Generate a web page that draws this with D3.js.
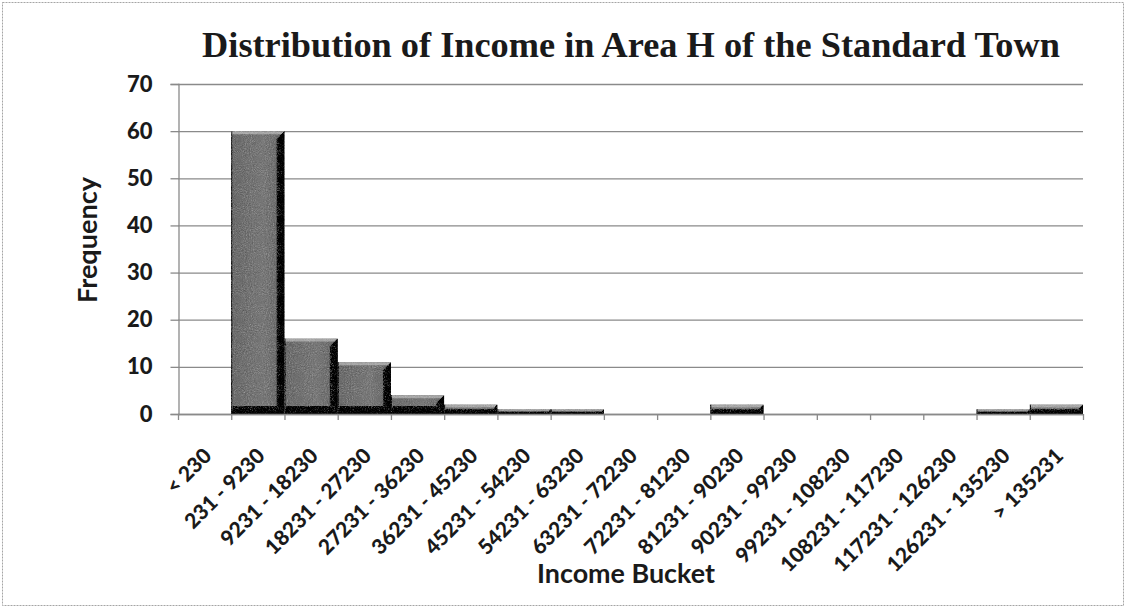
<!DOCTYPE html>
<html>
<head>
<meta charset="utf-8">
<script src="https://cdn.jsdelivr.net/npm/d3@7"></script>
<style>
  html, body { margin: 0; padding: 0; background: #ffffff; }
  svg { display: block; }
</style>
</head>
<body>
<svg id="chart" width="1126" height="610"></svg>
<script>
// ---- data ----
const categories = ["< 230", "231 - 9230", "9231 - 18230", "18231 - 27230", "27231 - 36230",
  "36231 - 45230", "45231 - 54230", "54231 - 63230", "63231 - 72230", "72231 - 81230",
  "81231 - 90230", "90231 - 99230", "99231 - 108230", "108231 - 117230", "117231 - 126230",
  "126231 - 135230", "> 135231"];
const frequency = [0, 60, 16, 11, 4, 2, 1, 1, 0, 0, 2, 0, 0, 0, 0, 1, 2];
const yTicks = [0, 10, 20, 30, 40, 50, 60, 70];
const titleText = "Distribution of Income in Area H of the Standard Town";
const xTitle = "Income Bucket";
const yTitle = "Frequency";

// ---- layout ----
const svg = d3.select("#chart");
const W = 1126, H = 610;
const plot = { left: 178, right: 1083, top: 84, bottom: 414 };
const textColor = "#1a1a1a";
const gridColor = "#8a8a8a";
const sansFont = "Lato, 'Open Sans', sans-serif";

const x = d3.scaleBand().domain(categories).range([plot.left, plot.right]).padding(0);
const y = d3.scaleLinear().domain([0, 70]).range([plot.bottom, plot.top]);

// defs
const defs = svg.append("defs");
const rg = defs.append("linearGradient").attr("id", "rightBevel").attr("x1", 0).attr("x2", 1).attr("y1", 0).attr("y2", 0);
rg.append("stop").attr("offset", "0%").attr("stop-color", "#666666");
rg.append("stop").attr("offset", "100%").attr("stop-color", "#2e2e2e");
const bg = defs.append("linearGradient").attr("id", "bottomBevel").attr("x1", 0).attr("x2", 0).attr("y1", 0).attr("y2", 1);
bg.append("stop").attr("offset", "0%").attr("stop-color", "#5a5a5a");
bg.append("stop").attr("offset", "100%").attr("stop-color", "#2c2c2c");
const fg = defs.append("linearGradient").attr("id", "face").attr("x1", 0).attr("x2", 1).attr("y1", 0).attr("y2", 0);
fg.append("stop").attr("offset", "0%").attr("stop-color", "#888888");
fg.append("stop").attr("offset", "60%").attr("stop-color", "#929292");
fg.append("stop").attr("offset", "100%").attr("stop-color", "#858585");
const grain = defs.append("filter").attr("id", "grain")
  .attr("filterUnits", "userSpaceOnUse").attr("x", 0).attr("y", 0).attr("width", W).attr("height", H);
grain.append("feTurbulence").attr("type", "fractalNoise").attr("baseFrequency", 0.95).attr("numOctaves", 2).attr("seed", 3).attr("result", "noise");
grain.append("feColorMatrix").attr("in", "noise").attr("type", "saturate").attr("values", 0).attr("result", "gnoise");
grain.append("feComposite").attr("in", "SourceGraphic").attr("in2", "gnoise").attr("operator", "arithmetic")
  .attr("k1", 0).attr("k2", 1).attr("k3", 0.45).attr("k4", -0.22).attr("result", "mix");
grain.append("feComposite").attr("in", "mix").attr("in2", "SourceAlpha").attr("operator", "in");

// outer border
svg.append("rect").attr("x", 2.5).attr("y", 2.5).attr("width", W - 5).attr("height", H - 7)
  .attr("fill", "none").attr("stroke", "#a5a5a5").attr("stroke-width", 1).attr("stroke-dasharray", "2,1");

// gridlines
svg.append("g").selectAll("line").data(yTicks).join("line")
  .attr("x1", plot.left).attr("x2", plot.right)
  .attr("y1", d => y(d) + 0.5).attr("y2", d => y(d) + 0.5)
  .attr("stroke", gridColor).attr("stroke-width", 1.3);

// y axis
const yAxis = svg.append("g").attr("transform", `translate(${plot.left + 0.5},0)`)
  .call(d3.axisLeft(y).tickValues(yTicks).tickSize(8).tickPadding(18).tickFormat(d3.format("d")));
yAxis.select(".domain").attr("stroke", gridColor).attr("stroke-width", 1.3);
yAxis.selectAll(".tick line").attr("stroke", gridColor).attr("stroke-width", 1.3);
yAxis.selectAll(".tick text").attr("fill", textColor)
  .style("font-family", sansFont).style("font-weight", "900").style("font-size", "22px");

// bars with bevel
const barsG = svg.append("g").attr("filter", "url(#grain)");
categories.forEach((c, i) => {
  const v = frequency[i];
  if (v <= 0) return;
  const x0 = x(c), x1 = x(c) + x.bandwidth();
  const y0 = y(v), y1 = y(0);
  const h = y1 - y0, w = x1 - x0;
  const b = Math.min(8, h / 2);
  const bt = Math.min(3, h / 3);
  const g = barsG.append("g");
  g.append("rect").attr("x", x0).attr("y", y0).attr("width", w).attr("height", h).attr("fill", "url(#face)");
  // top bevel (light)
  g.append("polygon").attr("points", [[x0, y0], [x1, y0], [x1 - bt, y0 + bt], [x0 + 1, y0 + bt]].join(" "))
    .attr("fill", "#b8b8b8");
  // right bevel (dark)
  g.append("polygon").attr("points", [[x1, y0], [x1, y1], [x1 - b, y1 - b], [x1 - b, y0 + b]].join(" "))
    .attr("fill", "url(#rightBevel)");
  // bottom bevel (dark)
  g.append("polygon").attr("points", [[x0, y1], [x1, y1], [x1 - b, y1 - b], [x0 + 2, y1 - b]].join(" "))
    .attr("fill", "url(#bottomBevel)");
  g.append("line").attr("x1", x0 + 0.5).attr("x2", x0 + 0.5).attr("y1", y0).attr("y2", y1)
    .attr("stroke", "#555555").attr("stroke-width", 1);
});

// x axis line and boundary ticks
svg.append("line").attr("x1", plot.left).attr("x2", plot.right)
  .attr("y1", plot.bottom + 0.5).attr("y2", plot.bottom + 0.5)
  .attr("stroke", gridColor).attr("stroke-width", 1.3);
const bounds = categories.map(c => x(c)).concat([x(categories[categories.length - 1]) + x.bandwidth()]);
svg.append("g").selectAll("line").data(bounds).join("line")
  .attr("x1", d => d + 0.5).attr("x2", d => d + 0.5)
  .attr("y1", plot.bottom).attr("y2", plot.bottom + 6)
  .attr("stroke", gridColor).attr("stroke-width", 1.3);

// x tick labels
svg.append("g").selectAll("text").data(categories).join("text")
  .attr("transform", d => `translate(${x(d) + x.bandwidth() / 2 + 3},452) rotate(-45)`)
  .attr("text-anchor", "end").attr("dy", "0.35em")
  .attr("fill", textColor)
  .style("font-family", sansFont).style("font-weight", "900").style("font-size", "21px")
  .text(d => d);

// helper: fit font size to a target width
function fitText(sel, targetWidth, baseSize) {
  sel.style("font-size", baseSize + "px");
  const wNow = sel.node().getComputedTextLength();
  sel.style("font-size", (baseSize * targetWidth / wNow).toFixed(2) + "px");
}

// title
const t = svg.append("text").attr("x", 631).attr("y", 57).attr("text-anchor", "middle")
  .attr("fill", textColor)
  .style("font-family", "'Liberation Serif', 'DejaVu Serif', serif").style("font-weight", "bold")
  .text(titleText);
fitText(t, 858, 32);

// axis titles
const xt = svg.append("text").attr("x", 626).attr("y", 583).attr("text-anchor", "middle")
  .attr("fill", textColor)
  .style("font-family", sansFont).style("font-weight", "bold")
  .text(xTitle);
fitText(xt, 178, 26);

const yt = svg.append("text").attr("transform", "translate(97,240) rotate(-90)").attr("text-anchor", "middle")
  .attr("fill", textColor)
  .style("font-family", sansFont).style("font-weight", "bold")
  .text(yTitle);
fitText(yt, 126, 26);
</script>
</body>
</html>
